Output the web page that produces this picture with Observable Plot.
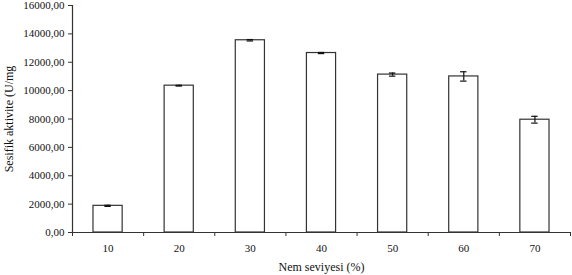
<!DOCTYPE html>
<html>
<head>
<meta charset="utf-8">
<script src="https://cdn.jsdelivr.net/npm/d3@7"></script>
<script src="https://cdn.jsdelivr.net/npm/@observablehq/plot@0.6"></script>
<style>
  html, body { margin: 0; padding: 0; background: #fff; }
</style>
</head>
<body>
<div id="chart"></div>
<script>
const nemLevels = [10, 20, 30, 40, 50, 60, 70];
const activity = [1880, 10350, 13550, 12650, 11130, 11000, 7950];
const errors = [40, 30, 50, 40, 110, 330, 240];
const yTicks = [0, 2000, 4000, 6000, 8000, 10000, 12000, 14000, 16000];

const data = nemLevels.map((n, i) => ({nem: n, value: activity[i], err: errors[i]}));
const halfBar = 2.05;
const halfCap = 0.45;
const boundaries = d3.range(nemLevels[0] - 5, nemLevels[nemLevels.length - 1] + 10, 10);
const ink = "#333";
const font = "'Liberation Serif', 'Times New Roman', serif";

const chart = Plot.plot({
  width: 572,
  height: 275,
  marginLeft: 72,
  marginRight: 2,
  marginTop: 5,
  marginBottom: 43,
  style: {fontFamily: font, fontSize: "11px", color: "#111", background: "#fff"},
  x: {domain: [boundaries[0], boundaries[boundaries.length - 1]]},
  y: {domain: [0, 16000]},
  marks: [
    Plot.axisY({
      ticks: yTicks,
      tickSize: 4,
      tickPadding: 4,
      stroke: ink,
      tickFormat: d => d.toFixed(2).replace(".", ","),
      label: null
    }),
    Plot.axisY({
      ticks: [],
      fontSize: 12,
      label: "Sesifik aktivite (U/mg",
      labelAnchor: "center",
      labelArrow: "none",
      labelOffset: 68
    }),
    Plot.axisX({ticks: boundaries, tickSize: 4, stroke: ink, tickFormat: () => "", label: null}),
    Plot.axisX({
      ticks: nemLevels,
      tickSize: 0,
      tickPadding: 12,
      tickFormat: d => String(d),
      label: null
    }),
    Plot.axisX({
      ticks: [],
      fontSize: 12,
      label: "Nem seviyesi (%)",
      labelAnchor: "center",
      labelArrow: "none",
      labelOffset: 38
    }),
    Plot.rectY(data, {
      x1: d => d.nem - halfBar,
      x2: d => d.nem + halfBar,
      y: "value",
      fill: "white",
      stroke: ink,
      strokeWidth: 1.2
    }),
    Plot.ruleX(data, {x: "nem", y1: d => d.value - d.err, y2: d => d.value + d.err, stroke: "#111", strokeWidth: 1.2}),
    Plot.ruleY(data, {y: d => d.value + d.err, x1: d => d.nem - halfCap, x2: d => d.nem + halfCap, stroke: "#111", strokeWidth: 1.2}),
    Plot.ruleY(data, {y: d => d.value - d.err, x1: d => d.nem - halfCap, x2: d => d.nem + halfCap, stroke: "#111", strokeWidth: 1.2}),
    Plot.ruleX([boundaries[0]], {stroke: ink, strokeWidth: 1.2}),
    Plot.ruleY([0], {stroke: ink, strokeWidth: 1.2})
  ]
});
document.getElementById("chart").appendChild(chart);
</script>
</body>
</html>
